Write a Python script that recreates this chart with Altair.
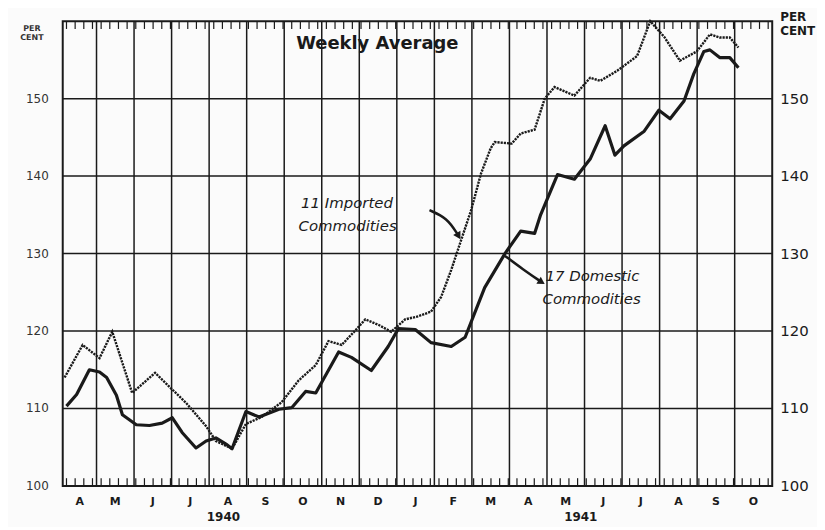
import altair as alt
import pandas as pd
import numpy as np

# Month index: 0 = 1 April 1940, 1 = 1 May 1940, ... 19 = 1 Nov 1941
month_letters = ["A", "M", "J", "J", "A", "S", "O", "N", "D",
                 "J", "F", "M", "A", "M", "J", "J", "A", "S", "O"]
month_centers = [0.55] + [i + 0.5 for i in range(1, 19)]
month_bounds = list(range(1, 19))
y_ticks = [100, 110, 120, 130, 140, 150]
y_grid = [110, 120, 130, 140, 150]

imp_m = [0.15, 0.63, 1.08, 1.42, 1.95, 2.56, 3.39, 3.92, 4.18, 4.61, 4.98, 5.40,
         5.93, 6.38, 6.84, 7.18, 7.53, 7.90, 8.16, 8.51, 8.85, 9.22, 9.57, 9.91,
         10.18, 10.45, 10.71, 10.98, 11.24, 11.50, 11.61, 12.06, 12.30, 12.67,
         12.94, 13.20, 13.73, 14.15, 14.42, 14.87, 15.40, 15.75, 16.12, 16.54,
         16.99, 17.34, 17.60, 17.87, 18.10]
imp_v = [114.0, 118.2, 116.5, 119.9, 112.0, 114.6, 110.7, 107.7, 105.8, 104.8, 108.0, 108.9,
         110.8, 113.6, 115.6, 118.7, 118.2, 120.1, 121.5, 120.8, 119.9, 121.5, 121.9, 122.5,
         124.4, 127.9, 131.7, 135.6, 140.3, 143.6, 144.4, 144.2, 145.5, 146.0,
         150.0, 151.5, 150.4, 152.7, 152.3, 153.6, 155.5, 160.0, 158.0, 154.9,
         156.1, 158.3, 157.9, 157.9, 156.6]

dom_m = [0.20, 0.47, 0.81, 1.08, 1.27, 1.53, 1.69, 2.06, 2.41, 2.75, 3.02, 3.28,
         3.65, 3.92, 4.18, 4.45, 4.61, 4.98, 5.33, 5.86, 6.20, 6.57, 6.84, 7.45,
         7.79, 8.32, 8.77, 9.04, 9.49, 9.91, 10.45, 10.82, 11.34, 11.88, 12.30,
         12.67, 12.83, 13.28, 13.73, 14.15, 14.55, 14.81, 15.05, 15.59, 15.98,
         16.28, 16.65, 16.91, 17.18, 17.34, 17.60, 17.87, 18.10]
dom_v = [110.3, 111.8, 115.0, 114.7, 114.0, 111.7, 109.2, 107.9, 107.8, 108.1, 108.8, 106.9,
         104.9, 105.8, 106.2, 105.4, 104.8, 109.6, 108.9, 109.9, 110.1, 112.2, 112.0, 117.3,
         116.6, 114.9, 118.0, 120.3, 120.2, 118.5, 118.0, 119.2, 125.6, 130.0, 132.9,
         132.6, 135.0, 140.2, 139.6, 142.2, 146.5, 142.7, 143.9, 145.8, 148.5,
         147.4, 149.7, 153.2, 156.1, 156.3, 155.3, 155.3, 154.0]

# annotation texts
ann_text = ["11 Imported", "Commodities", "17 Domestic", "Commodities"]
ann_m = [6.45, 6.38, 12.96, 12.88]
ann_v = [136.5, 133.5, 127.1, 124.1]

arrow_imp_m = [9.87, 10.34, 10.63]
arrow_imp_v = [135.6, 134.6, 132.4]
arrow_dom_m = [11.88, 12.35, 12.83]
arrow_dom_v = [129.7, 128.0, 126.4]

years = ["1940", "1941"]
years_m = [4.38, 13.9]
unit_text = "PER\nCENT"

W, H = 713, 467
FONT = "DejaVu Sans"
INK = "#1a1a1a"

xs = alt.Scale(domain=[0.1, 19], nice=False, zero=False)
ys = alt.Scale(domain=[100, 160], nice=False, zero=False)


def X(f="m"):
    return alt.X(f + ":Q", scale=xs, axis=None)


def Y(f="v"):
    return alt.Y(f + ":Q", scale=ys, axis=None)


df_imp = pd.DataFrame({"m": imp_m, "v": imp_v})
df_dom = pd.DataFrame({"m": dom_m, "v": dom_v})

# grid
vgrid = alt.Chart(pd.DataFrame({"m": month_bounds})).mark_rule(
    color=INK, strokeWidth=1.5).encode(x=X())
hgrid = alt.Chart(pd.DataFrame({"v": y_grid})).mark_rule(
    color=INK, strokeWidth=1.5).encode(y=Y())

weeks = np.arange(0.2, 19.0, 12 / 52)
df_w = pd.DataFrame({"m": weeks})
wk_bottom = alt.Chart(df_w).mark_rule(color=INK, strokeWidth=1.2).encode(
    x=X(), y=alt.Y(datum=100, scale=ys, axis=None), y2=alt.Y2(datum=101.0))
wk_top = alt.Chart(df_w).mark_rule(color=INK, strokeWidth=1.2).encode(
    x=X(), y=alt.Y(datum=159.0, scale=ys, axis=None), y2=alt.Y2(datum=160))

# series
imp_line = alt.Chart(df_imp).mark_line(color=INK, strokeWidth=2.4, strokeDash=[2.2, 1]).encode(
    x=X(), y=Y())
dom_line = alt.Chart(df_dom).mark_line(color=INK, strokeWidth=3.2, strokeJoin="round").encode(
    x=X(), y=Y())

# axis labels as text
df_yt = pd.DataFrame({"v": y_ticks, "t": [str(v) for v in y_ticks]})
left_labels = alt.Chart(df_yt).mark_text(
    font=FONT, fontSize=12, color="#333", align="right", baseline="middle"
).encode(x=alt.value(-14), y=Y(), text="t:N")
right_labels = alt.Chart(df_yt).mark_text(
    font=FONT, fontSize=15, color=INK, align="left", baseline="middle"
).encode(x=alt.value(W + 8), y=Y(), text="t:N")

df_mon = pd.DataFrame({"m": month_centers, "t": month_letters})
month_labels = alt.Chart(df_mon).mark_text(
    font=FONT, fontSize=11, fontWeight="bold", color=INK, align="center", baseline="middle"
).encode(x=X(), y=alt.value(H + 16), text="t:N")

df_years = pd.DataFrame({"m": years_m, "t": years})
year_labels = alt.Chart(df_years).mark_text(
    font=FONT, fontSize=12, fontWeight="bold", color=INK, align="center", baseline="middle"
).encode(x=X(), y=alt.value(H + 31), text="t:N")

df_unit = pd.DataFrame({"t": [unit_text]})
unit_left = alt.Chart(df_unit).mark_text(
    font=FONT, fontSize=8, fontWeight="bold", color="#333", align="center", baseline="top",
    lineBreak="\n", lineHeight=9
).encode(x=alt.value(-31), y=alt.value(4), text="t:N")
unit_right = alt.Chart(df_unit).mark_text(
    font=FONT, fontSize=12, fontWeight="bold", color=INK, align="left", baseline="top",
    lineBreak="\n", lineHeight=14
).encode(x=alt.value(W + 8), y=alt.value(-9), text="t:N")

title_layer = alt.Chart(pd.DataFrame({"m": [8.48], "v": [157.0], "t": ["Weekly Average"]})).mark_text(
    font=FONT, fontSize=18, fontWeight="bold", color=INK, baseline="middle", align="center"
).encode(x=X(), y=Y(), text="t:N")

df_ann = pd.DataFrame({"m": ann_m, "v": ann_v, "t": ann_text})
ann_layer = alt.Chart(df_ann).mark_text(
    font=FONT, fontSize=15, fontStyle="italic", color=INK, align="left", baseline="middle"
).encode(x=X(), y=Y(), text="t:N")

df_arrows = pd.DataFrame({
    "m": arrow_imp_m + arrow_dom_m,
    "v": arrow_imp_v + arrow_dom_v,
    "g": ["imp"] * 3 + ["dom"] * 3,
    "o": [0, 1, 2] * 2,
})
arrow_lines = alt.Chart(df_arrows).mark_line(color=INK, strokeWidth=2.5, interpolate="basis").encode(
    x=X(), y=Y(), detail="g:N", order="o:Q")

df_heads = pd.DataFrame({"m": [arrow_imp_m[-1], arrow_dom_m[-1]],
                         "v": [arrow_imp_v[-1], arrow_dom_v[-1]],
                         "a": [150, 122]})
arrow_heads = alt.Chart(df_heads).mark_point(shape="triangle", filled=True, color=INK,
                                             size=70, opacity=1).encode(
    x=X(), y=Y(), angle=alt.Angle("a:Q", scale=None))

chart = alt.layer(
    vgrid, hgrid, wk_bottom, wk_top, imp_line, dom_line,
    left_labels, right_labels, month_labels, year_labels, unit_left, unit_right,
    title_layer, ann_layer, arrow_lines, arrow_heads
).properties(
    width=W, height=H,
    autosize=alt.AutoSizeParams(type="none"),
    padding={"left": 55, "top": 12, "right": 45, "bottom": 40},
    background="#fbfbfb",
).configure_view(stroke=INK, strokeWidth=2)

chart.save("out.html", embed_options={"renderer": "svg", "actions": False})
